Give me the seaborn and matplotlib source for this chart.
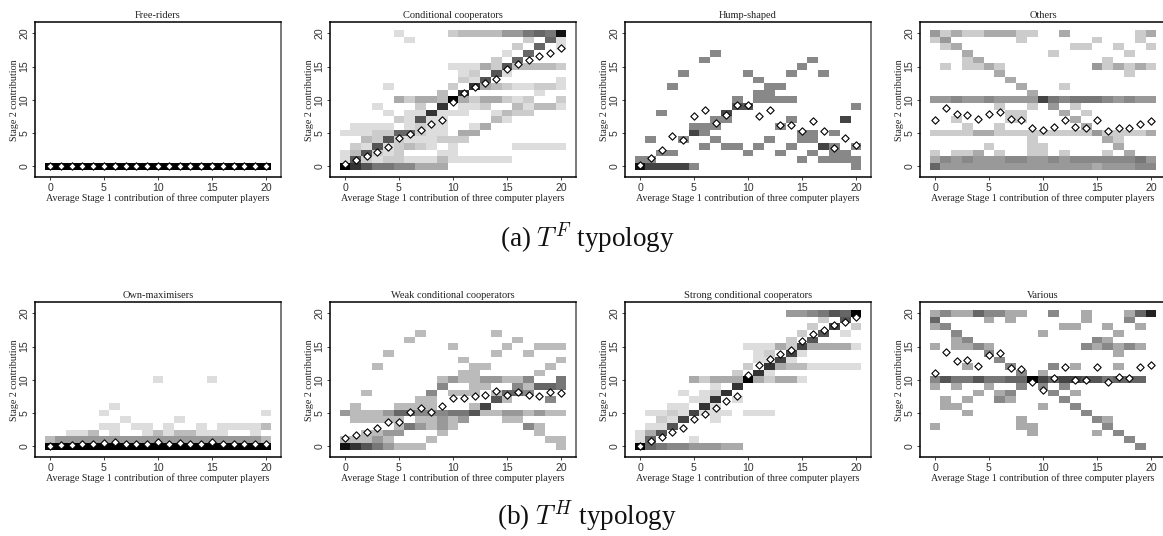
import numpy as np
import pandas as pd
import matplotlib
matplotlib.use("Agg")
import matplotlib.pyplot as plt
import seaborn as sns

stage1 = list(range(21))
stage2 = list(range(21))

titles_top = ["Free-riders", "Conditional cooperators", "Hump-shaped", "Others"]
titles_bottom = ["Own-maximisers", "Weak conditional cooperators", "Strong conditional cooperators", "Various"]

# cell darkness as hex digits (0 white, f black), one string per Stage 2 value from 20 down to 0,
# columns are Stage 1 values 0..20 grouped by five
free_cells = ["00000 00000 00000 00000 0"] * 20 + ["fffff fffff fffff fffff f"]
free_means = [0] * 21

cond_cells = [
    "00000 20000 34444 66898 e",
    "00000 02000 00000 00309 2",
    "00000 00000 00000 03090 2",
    "00000 00000 00000 20900 0",
    "00000 00000 00003 09000 0",
    "00000 00000 22253 a4444 3",
    "00000 00000 0230a 20000 0",
    "00000 00000 032a0 00000 2",
    "00002 00000 30c54 32233 2",
    "00000 00004 0c000 00020 0",
    "00000 53554 f5355 32300 3",
    "00020 0030c 02230 04244 2",
    "00002 022c2 22002 43300 0",
    "00000 32a22 00004 20000 0",
    "02222 02322 00250 00000 0",
    "22233 99322 05500 00000 0",
    "0043a 32223 33000 00000 0",
    "032a2 34320 20000 02222 2",
    "24a32 30002 20000 00000 0",
    "2a323 32224 22222 20000 0",
    "fca88 77555 00000 00000 0",
]
cond_means = [0.3, 1.0, 1.5, 2.2, 2.9, 4.2, 4.9, 5.4, 6.3, 7.0, 9.7, 11.0, 11.9, 12.6, 13.2, 14.6, 15.4, 16.0, 16.6, 17.1, 17.8]

hump_cells = [
    "00000 00000 00000 00000 0",
    "00000 00000 00000 00000 0",
    "00000 00000 00000 00000 0",
    "00000 00700 00000 00000 0",
    "00000 07000 00000 07000 0",
    "00000 00000 00000 70000 0",
    "00007 00000 70007 00700 0",
    "00000 00000 07000 00000 0",
    "00070 00000 00770 00000 0",
    "00000 00000 07700 00000 0",
    "00000 00007 07777 00000 0",
    "00000 0000a a0000 00000 7",
    "00700 000b0 00000 00000 0",
    "00000 00770 00007 0000b 0",
    "00000 77700 00070 00000 0",
    "00000 b7000 00000 77070 0",
    "07007 00700 00700 77000 0",
    "00000 07077 07007 00b70 7",
    "00770 00000 70070 07077 0",
    "77000 00000 00000 70777 7",
    "ebbbb 70000 00000 00000 7",
]
hump_means = [0.25, 1.25, 2.5, 4.5, 4.0, 7.5, 8.5, 6.5, 7.75, 9.25, 9.25, 7.5, 8.5, 6.25, 6.25, 5.25, 6.75, 5.25, 2.75, 4.25, 3.25]

others_cells = [
    "63533 55533 00500 00003 5",
    "36000 00030 00000 30003 0",
    "03500 00000 00033 00300 3",
    "00050 00000 03000 00030 0",
    "00035 00000 00000 03000 0",
    "03033 53000 00000 63535 3",
    "00000 05000 00000 00030 0",
    "00000 00500 00000 00000 0",
    "00000 00050 00300 00000 0",
    "00000 00005 00000 00000 0",
    "66766 76666 b8788 87676 6",
    "00000 03003 06030 00000 0",
    "00000 00330 00503 00000 0",
    "00300 00330 00050 00000 0",
    "00030 03000 00005 00000 0",
    "33335 53333 33333 63333 5",
    "00000 00003 00000 05300 0",
    "00000 30003 30000 00500 0",
    "30335 03003 30300 03050 0",
    "57676 66776 67677 77778 6",
    "96666 66666 66666 56667 7",
]
others_means = [6.9, 8.7, 7.8, 7.75, 7.1, 7.9, 8.1, 7.05, 6.9, 5.8, 5.5, 5.9, 6.9, 5.9, 5.7, 6.9, 5.3, 5.7, 5.8, 6.4, 6.8]

own_cells = ["00000 00000 00000 00000 0"] * 10 + [
    "00000 00000 20000 20000 0",
    "00000 00000 00000 00000 0",
    "00000 00000 00000 00000 0",
    "00000 00000 00000 00000 0",
    "00000 02000 00000 00000 0",
    "00000 20000 00000 00000 2",
    "00000 00200 00200 00000 0",
    "00000 22022 02002 02222 4",
    "00224 02002 42442 22002 0",
    "46666 66666 66666 66666 4",
    "fffff fffff fffff fffff f",
]
own_means = [0.1, 0.15, 0.2, 0.3, 0.3, 0.5, 0.65, 0.4, 0.35, 0.4, 0.7, 0.4, 0.45, 0.35, 0.4, 0.7, 0.4, 0.35, 0.35, 0.35, 0.4]

weak_cells = [
    "00000 00000 00000 00000 0",
    "00000 00000 00000 00000 0",
    "00000 00000 00000 00000 0",
    "00000 00400 00004 00000 0",
    "00000 04000 00000 04000 0",
    "00000 00000 40000 40044 4",
    "00004 00000 00004 00400 0",
    "00000 00000 04000 00000 4",
    "00040 00000 00440 00004 0",
    "00000 00000 04400 00040 0",
    "00000 00004 64466 44700 8",
    "00000 00007 00440 07499 8",
    "00400 00070 44404 99700 0",
    "00000 00440 0000a 40007 0",
    "04000 44440 004b0 00000 0",
    "64446 99777 88a44 66464 4",
    "04444 40446 46000 44000 0",
    "00000 48646 40000 00740 0",
    "00446 60004 00000 00040 0",
    "44464 00040 00000 00004 4",
    "eca86 44400 00000 00000 4",
]
weak_means = [1.2, 1.75, 2.2, 2.75, 3.7, 3.7, 5.1, 5.7, 5.2, 6.0, 7.2, 7.2, 7.5, 7.75, 8.3, 7.75, 8.2, 7.75, 7.5, 8.2, 8.0]

strong_cells = [
    "00000 00000 00006 678a9 f",
    "00000 00000 00000 0030a 0",
    "00000 00000 00000 030b0 3",
    "00000 00000 00000 30a02 0",
    "00000 00000 00003 0a000 0",
    "00000 00000 22253 b5555 2",
    "00000 00000 0230b 20000 0",
    "00000 00000 022b2 00000 0",
    "00000 00000 30c54 42222 2",
    "00000 00003 0c200 00000 0",
    "00000 53555 f5355 20000 0",
    "00000 0020c 00000 00000 0",
    "00002 023c0 00000 00000 0",
    "00000 22c02 00000 00000 0",
    "00022 0c200 00000 00000 0",
    "02232 b2220 22200 00000 0",
    "0032b 00200 00000 00000 0",
    "022a0 00000 00000 00000 0",
    "25a00 00000 00000 00000 0",
    "29000 20000 00000 00000 0",
    "f9877 66655 00000 00000 0",
]
strong_means = [0.1, 0.85, 1.45, 2.15, 2.8, 4.05, 4.8, 5.8, 6.8, 7.5, 10.75, 12.2, 13.1, 13.9, 14.5, 15.8, 16.9, 17.5, 18.2, 18.7, 19.45]

various_cells = [
    "57559 77550 07005 00059 d",
    "90000 50500 00005 00070 0",
    "57000 00000 00550 05005 0",
    "00700 00000 50000 00500 0",
    "00570 00000 00000 75000 0",
    "50557 50000 00007 57575 0",
    "00000 70000 00000 00500 0",
    "00000 07000 00000 00000 0",
    "00050 00700 07050 00500 0",
    "00000 00070 50000 00000 0",
    "7a88a 8899f b9bba a8999 0",
    "50500 50070 70700 00000 0",
    "00005 05700 07050 00000 0",
    "05050 07500 00700 00000 0",
    "05500 00000 50070 00000 0",
    "00050 00000 00007 00000 0",
    "00000 00050 00000 75000 0",
    "50000 00055 00000 07000 0",
    "00000 00005 00000 50700 0",
    "00000 00000 00000 00070 0",
    "00000 00000 00000 00007 0",
]
various_means = [11.0, 14.2, 12.9, 13.0, 12.05, 13.8, 14.1, 11.8, 11.6, 9.6, 8.5, 10.2, 12.0, 10.0, 10.0, 11.9, 9.6, 10.4, 10.2, 12.0, 12.3]

tick_values = [0, 5, 10, 15, 20]

W, H = 1163, 536
sns.set_theme(style="white")
plt.rcParams["font.family"] = ["Liberation Serif", "DejaVu Serif"]
plt.rcParams["mathtext.fontset"] = "cm"
greys = sns.blend_palette(["white", "black"], as_cmap=True)


def to_frame(rows):
    # rows come top down, the frame goes bottom up so that row 0 is Stage 2 = 0
    grid = [[int(c, 16) for c in r.replace(" ", "")] for r in rows[::-1]]
    return pd.DataFrame(grid, index=stage2, columns=stage1)


def draw_panel(fig, left, top, title, rows, means):
    ax = fig.add_axes([left / W, 1 - (top + 155) / H, 246 / W, 155 / H])
    sns.heatmap(to_frame(rows), ax=ax, cmap=greys, vmin=0, vmax=15, cbar=False,
                xticklabels=False, yticklabels=False)
    # heatmap cells are centred on value + 0.5
    sns.scatterplot(x=np.array(stage1) + 0.5, y=np.array(means) + 0.5, ax=ax, marker="D", s=14,
                    color="white", edgecolor="black", linewidth=0.8, zorder=5, clip_on=False)
    ax.set_xlim(-0.89, 21.89)
    ax.set_ylim(-1.16, 22.16)
    ax.set_xticks(np.array(tick_values) + 0.5)
    ax.set_xticklabels(tick_values, fontfamily="Liberation Sans", fontsize=7.6, color="#333333")
    ax.set_yticks(np.array(tick_values) + 0.5)
    ax.set_yticklabels(tick_values, fontfamily="Liberation Sans", fontsize=7.6, color="#333333",
                       rotation=90, va="center")
    ax.tick_params(length=2.5, width=0.6, pad=1.5, color="#222222", bottom=True, left=True)
    for side in ax.spines.values():
        side.set_visible(True)
        side.set_color("black")
        side.set_linewidth(1.1)
    ax.spines["right"].set_color("#555555")
    ax.set_title(title, fontsize=7.5, color="#222222", pad=3)
    # scatterplot hides the axis labels when heatmap drew no tick labels, so turn them back on
    ax.set_xlabel("Average Stage 1 contribution of three computer players", fontsize=7.2, color="#222222",
                  labelpad=0, visible=True)
    ax.set_ylabel("Stage 2 contribution", fontsize=7.2, color="#222222", labelpad=0, visible=True)
    return ax


fig = plt.figure(figsize=(W / 100, H / 100), dpi=100)

lefts = [35, 330, 625, 920]
top_rows = [free_cells, cond_cells, hump_cells, others_cells]
top_means = [free_means, cond_means, hump_means, others_means]
bottom_rows = [own_cells, weak_cells, strong_cells, various_cells]
bottom_means = [own_means, weak_means, strong_means, various_means]

for i in range(4):
    draw_panel(fig, lefts[i], 22.3, titles_top[i], top_rows[i], top_means[i])
    draw_panel(fig, lefts[i], 302.3, titles_bottom[i], bottom_rows[i], bottom_means[i])

fig.text(587 / W, 1 - 247 / H, r"(a) $T^F$ typology", ha="center", va="baseline", fontsize=19.5, color="#111111")
fig.text(587 / W, 1 - 525 / H, r"(b) $T^H$ typology", ha="center", va="baseline", fontsize=19.5, color="#111111")

fig.savefig("out.png", dpi=100)
